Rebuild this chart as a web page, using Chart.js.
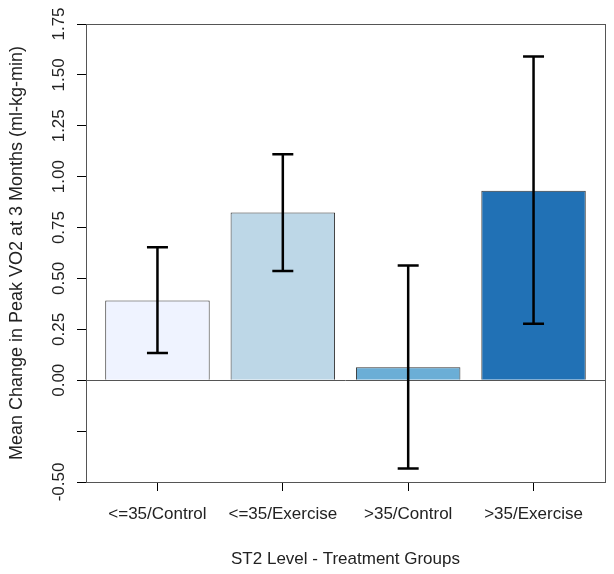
<!DOCTYPE html>
<html>
<head>
<meta charset="utf-8">
<script src="https://cdn.jsdelivr.net/npm/chart.js@4/dist/chart.umd.min.js"></script>
<style>
  html, body { margin: 0; padding: 0; background: #fff; }
  #wrap { width: 614px; height: 574px; }
</style>
</head>
<body>
<div id="wrap"><canvas id="chart" width="614" height="574"></canvas></div>
<script>
// values
var categories = ["<=35/Control", "<=35/Exercise", ">35/Control", ">35/Exercise"];
var means = [0.392, 0.824, 0.064, 0.931];
var lowerCI = [0.134, 0.537, -0.434, 0.278];
var upperCI = [0.653, 1.110, 0.564, 1.590];
var barColors = ["#EFF3FF", "#BDD7E7", "#6BAED6", "#2171B5"];
var yTicks = [-0.5, -0.25, 0, 0.25, 0.5, 0.75, 1, 1.25, 1.5, 1.75];
var hiddenTickLabels = [-0.25];

var FONT = "'Liberation Sans', Arial, sans-serif";
var TEXT = "#222";

//box round the plot, zero line and the error bars
var extrasPlugin = {
	id: "extras",
	afterDatasetsDraw: function(chart) {
		var ctx = chart.ctx;
		var area = chart.chartArea;
		var x = chart.scales.x;
		var y = chart.scales.y;

		ctx.save();
		//zero line
		var y0 = Math.round(y.getPixelForValue(0)) + 0.5;
		ctx.strokeStyle = "#555";
		ctx.lineWidth = 1;
		ctx.beginPath();
		ctx.moveTo(area.left, y0);
		ctx.lineTo(area.right, y0);
		ctx.stroke();

		//error bars
		ctx.strokeStyle = "#000";
		ctx.lineWidth = 2.5;
		for (var i = 0; i < categories.length; i++) {
			var px = x.getPixelForValue(i);
			var lo = y.getPixelForValue(lowerCI[i]);
			var hi = y.getPixelForValue(upperCI[i]);
			ctx.beginPath();
			ctx.moveTo(px, lo);
			ctx.lineTo(px, hi);
			ctx.moveTo(px - 10.5, lo);
			ctx.lineTo(px + 10.5, lo);
			ctx.moveTo(px - 10.5, hi);
			ctx.lineTo(px + 10.5, hi);
			ctx.stroke();
		}

		//box
		ctx.strokeStyle = "#555";
		ctx.lineWidth = 1;
		ctx.strokeRect(Math.round(area.left) + 0.5, Math.round(area.top) + 0.5,
			Math.round(area.right - area.left), Math.round(area.bottom - area.top));
		ctx.restore();
	}
};

var dataPoints = [];
for (var i = 0; i < categories.length; i++) {
	dataPoints.push({ x: i, y: means[i] });
}

var chart = new Chart(document.getElementById("chart"), {
	type: "bar",
	data: {
		datasets: [{
			data: dataPoints,
			backgroundColor: barColors,
			borderColor: "#333",
			borderWidth: 1,
			barPercentage: 0.8333,
			categoryPercentage: 1
		}]
	},
	options: {
		responsive: false,
		animation: false,
		devicePixelRatio: 1,
		layout: { padding: { top: 24, right: 9, left: 0, bottom: 0 } },
		plugins: {
			legend: { display: false },
			tooltip: { enabled: false }
		},
		scales: {
			x: {
				type: "linear",
				min: -0.57,
				max: 3.57,
				offset: false,
				afterBuildTicks: function(scale) {
					scale.ticks = categories.map(function(c, i) { return { value: i }; });
				},
				afterFit: function(scale) { scale.height = 92; },
				grid: { offset: false, drawOnChartArea: false, color: "#000", tickLength: 9, tickWidth: 1 },
				border: { display: false },
				ticks: {
					autoSkip: false,
					maxRotation: 0,
					padding: 13,
					color: TEXT,
					font: { family: FONT, size: 17 },
					callback: function(v) { return categories[v]; }
				},
				title: {
					display: true,
					text: "ST2 Level - Treatment Groups",
					color: TEXT,
					font: { family: FONT, size: 17 },
					padding: { top: 0, bottom: 4 }
				}
			},
			y: {
				min: -0.5,
				max: 1.75,
				afterBuildTicks: function(scale) {
					scale.ticks = yTicks.map(function(v) { return { value: v }; });
				},
				afterFit: function(scale) { scale.width = 86; },
				grid: { drawOnChartArea: false, color: "#000", tickLength: 9, tickWidth: 1 },
				border: { display: true, color: "#000", width: 1 },
				ticks: {
					autoSkip: false,
					minRotation: 90,
					maxRotation: 90,
					crossAlign: "center",
					padding: -2,
					color: TEXT,
					font: { family: FONT, size: 17 },
					callback: function(v) {
						if (hiddenTickLabels.indexOf(v) >= 0) return "";
						return v.toFixed(2);
					}
				},
				title: {
					display: true,
					text: "Mean Change in Peak VO2 at 3 Months (ml-kg-min)",
					color: TEXT,
					font: { family: FONT, size: 18 },
					padding: { top: 6, bottom: 0 }
				}
			}
		}
	},
	plugins: [extrasPlugin]
});
</script>
</body>
</html>
